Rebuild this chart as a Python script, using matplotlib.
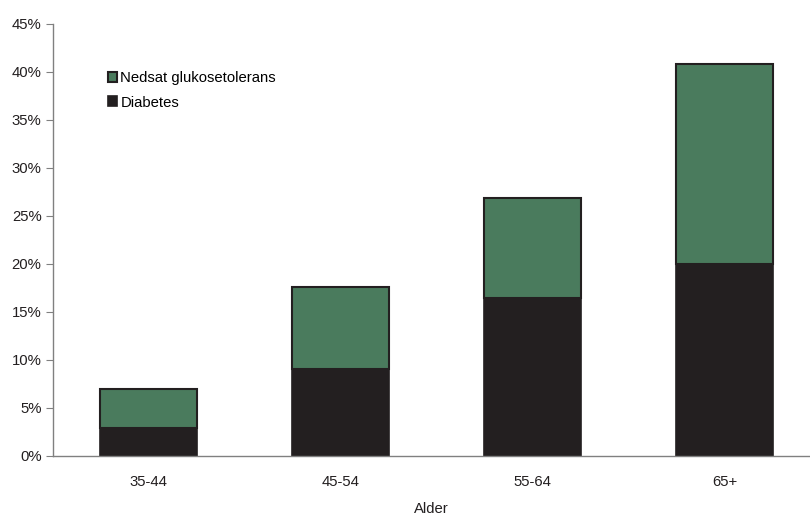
import matplotlib.pyplot as plt
from matplotlib.ticker import FuncFormatter

plt.rcParams['font.family'] = ['Liberation Sans', 'DejaVu Sans']

# Data
aldersgrupper = ['35-44', '45-54', '55-64', '65+']
diabetes = [2.9, 9.0, 16.4, 20.0]
total = [6.9, 17.6, 26.8, 40.8]
nedsat = [t - d for t, d in zip(total, diabetes)]

groen = '#4a7b5d'
sort = '#231f20'
fs = 10.7

fig = plt.figure(figsize=(8.1, 5.16), dpi=100)
ax = fig.add_axes([0.065, 0.117, 0.935, 0.837])

x = range(len(aldersgrupper))
ax.bar(x, diabetes, width=0.505, color=sort, edgecolor=sort, linewidth=1.2,
       label='Diabetes')
ax.bar(x, nedsat, width=0.505, bottom=diabetes, color=groen, edgecolor=sort,
       linewidth=1.5, label='Nedsat glukosetolerans')

ax.set_xlim(-0.5, 3.444)
ax.set_ylim(0, 45)
ax.set_yticks(range(0, 46, 5))
ax.yaxis.set_major_formatter(FuncFormatter(lambda v, p: f'{int(v)}%'))
ax.set_xticks(list(x))
ax.set_xticklabels(aldersgrupper)
ax.set_xlabel('Alder', fontsize=fs, labelpad=9, color='#231f20')

for s in ['top', 'right']:
    ax.spines[s].set_visible(False)
for s in ['left', 'bottom']:
    ax.spines[s].set_color('#808080')
    ax.spines[s].set_linewidth(1.0)
ax.tick_params(axis='y', length=5, color='#808080', labelsize=fs,
               labelcolor='#231f20', pad=3)
ax.tick_params(axis='x', length=0, labelsize=fs, labelcolor='#231f20', pad=14)

# Legende (green first)
h, l = ax.get_legend_handles_labels()
ax.legend(h[::-1], l[::-1], loc='upper left', bbox_to_anchor=(0.065, 0.904),
          frameon=False, fontsize=fs, handlelength=0.65, handleheight=0.65,
          handletextpad=0.2, labelspacing=0.7, borderaxespad=0)

fig.savefig('out.png', dpi=100)
